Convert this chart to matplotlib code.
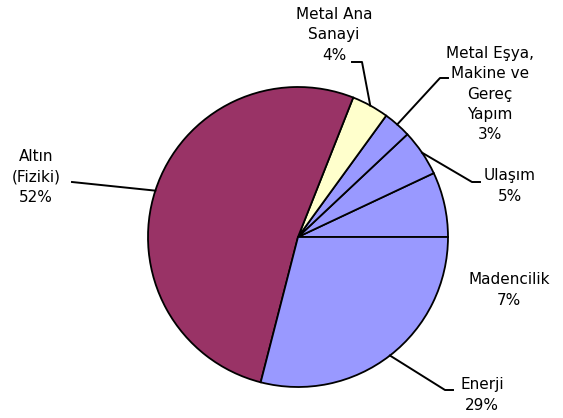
import matplotlib.pyplot as plt
import numpy as np

labels = ["Madencilik", "Ulaşım", "Metal Eşya,\nMakine ve\nGereç\nYapım",
          "Metal Ana\nSanayi", "Altın\n(Fiziki)", "Enerji"]
values = [7, 5, 3, 4, 52, 29]
colors = ["#9999FF", "#9999FF", "#9999FF", "#FFFFCC", "#993366", "#9999FF"]

W, H = 563, 418
fig = plt.figure(figsize=(W / 100, H / 100), dpi=100)
ax = fig.add_axes([0, 0, 1, 1])

cx, cy, r = 298, H - 237, 150
wedges, _ = ax.pie(values, colors=colors, startangle=0, counterclock=True,
                   center=(cx, cy), radius=r, frame=True,
                   wedgeprops=dict(edgecolor="black", linewidth=1.3))
ax.set_xlim(0, W)
ax.set_ylim(0, H)
ax.set_aspect("equal")
ax.axis("off")

# label text positions (pixel coords, y from top) and leader elbows
text_pos = [(509, 290), (510, 186), (490, 94), (334, 35), (36, 177), (482, 395)]
elbows = [None, (472, 182, 480), (440, 78, 448), (362, 62, 352), (72, 182, 72), (445, 390, 453)]

pct = [f"{v}%" for v in values]
for i, w in enumerate(wedges):
    mid = np.deg2rad((w.theta1 + w.theta2) / 2)
    ex, ey = cx + r * np.cos(mid), cy + r * np.sin(mid)
    if elbows[i] is not None:
        bx, by, hx = elbows[i]
        ax.plot([ex, bx, hx], [ey, H - by, H - by], color="black", lw=1.4)
    tx, ty = text_pos[i]
    ax.text(tx, H - ty, labels[i] + "\n" + pct[i], ha="center", va="center",
            fontsize=11, linespacing=1.45, family="DejaVu Sans")

fig.savefig("out.png", dpi=100)
